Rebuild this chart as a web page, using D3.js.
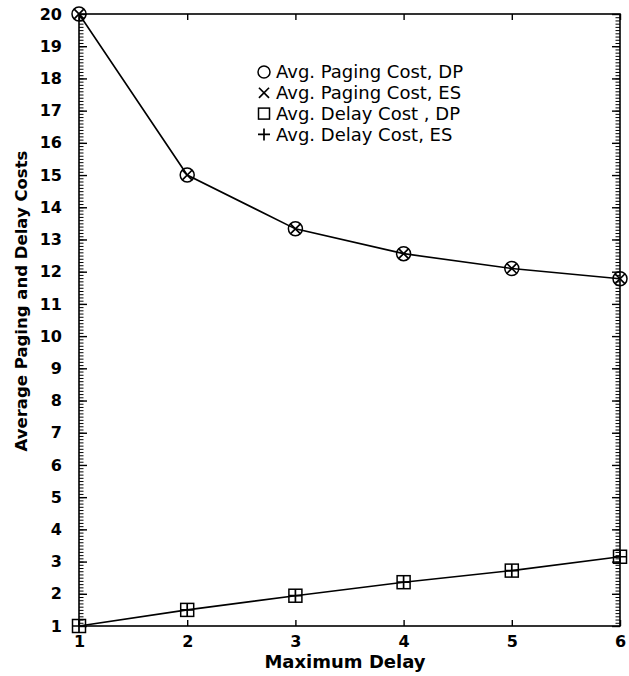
<!DOCTYPE html>
<html>
<head>
<meta charset="utf-8">
<script src="https://cdn.jsdelivr.net/npm/d3@7"></script>
<style>
body { margin: 0; background: #fff; }
text { font-family: "DejaVu Sans", sans-serif; fill: #000; }
</style>
</head>
<body>
<div id="chart"></div>
<script>
// values
var maxDelay = [1, 2, 3, 4, 5, 6];
var pagingDP = [20, 15, 13.33, 12.56, 12.1, 11.78];
var pagingES = [20, 15, 13.33, 12.56, 12.1, 11.78];
var delayDP = [1, 1.5, 1.94, 2.36, 2.72, 3.15];
var delayES = [1, 1.5, 1.94, 2.36, 2.72, 3.15];
var yTicks = d3.range(1, 21);
var legendLabels = ["Avg. Paging Cost, DP", "Avg. Paging Cost, ES", "Avg. Delay Cost , DP", "Avg. Delay Cost, ES"];

var W = 629, H = 676;
var plotLeft = 79, plotRight = 620, plotTop = 14, plotBottom = 626;

var svg = d3.select("#chart").append("svg")
    .attr("width", W)
    .attr("height", H);

var x = d3.scaleLinear().domain([1, 6]).range([plotLeft, plotRight]);
var y = d3.scaleLinear().domain([1, 20]).range([plotBottom, plotTop]);

// frame
svg.append("rect")
    .attr("x", plotLeft).attr("y", plotTop)
    .attr("width", plotRight - plotLeft).attr("height", plotBottom - plotTop)
    .attr("fill", "none").attr("stroke", "#000").attr("stroke-width", 1.6);

var minor = d3.range(1, 20.001, 0.1);

function noDomain(g) { g.select(".domain").remove(); }

// left axis
svg.append("g").attr("class", "minor").attr("transform", "translate(" + plotLeft + ",0)")
    .call(d3.axisRight(y).tickValues(minor).tickSize(4.5).tickFormat(""))
    .call(noDomain);
svg.append("g").attr("class", "major").attr("transform", "translate(" + plotLeft + ",0)")
    .call(d3.axisRight(y).tickValues(yTicks).tickSize(8).tickFormat(""))
    .call(noDomain);
var glLab = svg.append("g").attr("transform", "translate(" + plotLeft + ",0)")
    .call(d3.axisLeft(y).tickValues(yTicks).tickSize(0).tickPadding(17).tickFormat(d3.format("d")))
    .call(noDomain);
glLab.selectAll("text")
    .style("font-size", "16px").style("font-weight", "bold");

// right axis
svg.append("g").attr("class", "minor").attr("transform", "translate(" + plotRight + ",0)")
    .call(d3.axisLeft(y).tickValues(minor).tickSize(4.5).tickFormat(""))
    .call(noDomain);
svg.append("g").attr("class", "major").attr("transform", "translate(" + plotRight + ",0)")
    .call(d3.axisLeft(y).tickValues(yTicks).tickSize(8).tickFormat(""))
    .call(noDomain);

// bottom axis
svg.append("g").attr("class", "major").attr("transform", "translate(0," + plotBottom + ")")
    .call(d3.axisTop(x).tickValues(maxDelay).tickSize(6).tickFormat(""))
    .call(noDomain);
var gbLab = svg.append("g").attr("transform", "translate(0," + plotBottom + ")")
    .call(d3.axisBottom(x).tickValues(maxDelay).tickSize(0).tickPadding(10).tickFormat(d3.format("d")))
    .call(noDomain);
gbLab.selectAll("text").style("font-size", "16px").style("font-weight", "bold");

// top axis
svg.append("g").attr("class", "major").attr("transform", "translate(0," + plotTop + ")")
    .call(d3.axisBottom(x).tickValues(maxDelay).tickSize(6).tickFormat(""))
    .call(noDomain);

svg.selectAll(".minor .tick line").attr("stroke", "#000").attr("stroke-width", 1);
svg.selectAll(".major .tick line").attr("stroke", "#000").attr("stroke-width", 1.4);

// axis titles
svg.append("text")
    .attr("x", 345).attr("y", 668)
    .attr("text-anchor", "middle")
    .style("font-size", "18px").style("font-weight", "bold")
    .text("Maximum Delay");
svg.append("text")
    .attr("transform", "translate(27,301) rotate(-90)")
    .attr("text-anchor", "middle")
    .style("font-size", "16.5px").style("font-weight", "bold")
    .text("Average Paging and Delay Costs");

// lines
var line = d3.line()
    .x(function (d, i) { return x(maxDelay[i]); })
    .y(function (d) { return y(d); });

[pagingDP, delayDP].forEach(function (s) {
    svg.append("path").datum(s)
        .attr("d", line)
        .attr("fill", "none").attr("stroke", "#000").attr("stroke-width", 1.6);
});

// markers
function drawMarker(g, type, cx, cy, r) {
    if (type === "circle") {
        g.append("circle").attr("cx", cx).attr("cy", cy).attr("r", r)
            .attr("fill", "none").attr("stroke", "#000").attr("stroke-width", 1.5);
    } else if (type === "x") {
        var k = r * 0.72;
        g.append("path")
            .attr("d", "M" + (cx - k) + "," + (cy - k) + "L" + (cx + k) + "," + (cy + k) +
                "M" + (cx - k) + "," + (cy + k) + "L" + (cx + k) + "," + (cy - k))
            .attr("stroke", "#000").attr("stroke-width", 1.7);
    } else if (type === "square") {
        g.append("rect").attr("x", cx - r).attr("y", cy - r)
            .attr("width", 2 * r).attr("height", 2 * r)
            .attr("fill", "none").attr("stroke", "#000").attr("stroke-width", 1.5);
    } else if (type === "plus") {
        g.append("path")
            .attr("d", "M" + (cx - r) + "," + cy + "L" + (cx + r) + "," + cy +
                "M" + cx + "," + (cy - r) + "L" + cx + "," + (cy + r))
            .attr("stroke", "#000").attr("stroke-width", 1.7);
    }
}

var series = [
    { data: pagingDP, type: "circle", r: 7, lr: 6 },
    { data: pagingES, type: "x", r: 7, lr: 7 },
    { data: delayDP, type: "square", r: 6.5, lr: 5.5 },
    { data: delayES, type: "plus", r: 6.5, lr: 6 }
];
var mg = svg.append("g");
series.forEach(function (s) {
    s.data.forEach(function (v, i) {
        drawMarker(mg, s.type, x(maxDelay[i]), y(v), s.r);
    });
});

// legend
var lg = svg.append("g").attr("transform", "translate(264,72)");
legendLabels.forEach(function (lab, i) {
    var ty = i * 20.8;
    drawMarker(lg, series[i].type, 0, ty, series[i].lr);
    lg.append("text")
        .attr("x", 12).attr("y", ty).attr("dy", "0.36em")
        .style("font-size", "18px")
        .text(lab);
});
</script>
</body>
</html>
